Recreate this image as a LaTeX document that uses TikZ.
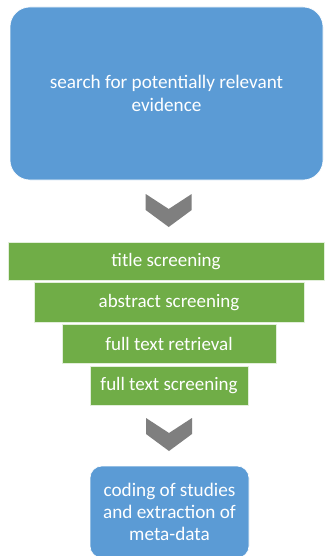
\documentclass[tikz,border=0pt]{standalone}
\usepackage{fontspec}
\setmainfont{Carlito}
\usetikzlibrary{calc}
\definecolor{boxblue}{HTML}{5B9BD5}
\definecolor{bargreen}{HTML}{70AD47}
\definecolor{chevgray}{HTML}{7F7F7F}
\begin{document}
\begin{tikzpicture}[x=1pt,y=-1pt,
  bluebox/.style={fill=boxblue,draw=white,line width=0.6pt,text=white,align=center,
    inner sep=0pt,font=\fontsize{19.2}{23}\selectfont},
  greenbar/.style={fill=bargreen,draw=white!80!bargreen,line width=0.8pt,text=white,
    inner sep=0pt,font=\fontsize{19}{22}\selectfont},
  chevron/.style={fill=chevgray}]
\useasboundingbox (0,0) rectangle (324,556);
\fill[white] (0,0) rectangle (324,556);
% top box
\node[bluebox,rounded corners=20pt,minimum width=313pt,minimum height=173pt]
  (search) at (166.5,93.5) {search for potentially relevant\\evidence};
% green funnel bars
\node[greenbar,minimum width=316pt,minimum height=38.5pt] (title) at (166,261.25) {title screening};
\node[greenbar,minimum width=270pt,minimum height=39.5pt] (abstract) at (169,302.25) {abstract screening};
\node[greenbar,minimum width=214pt,minimum height=39pt] (retrieval) at (169,343.5) {full text retrieval};
\node[greenbar,minimum width=158pt,minimum height=39pt] (fulltext) at (169,385.5) {full text screening};
% bottom box
\node[bluebox,rounded corners=12pt,minimum width=159pt,minimum height=92pt,
  font=\fontsize{19.2}{22}\selectfont]
  (coding) at (169.5,512) {coding of studies\\and extraction of\\meta-data};
% chevrons
\coordinate (c1) at (168.7,194);
\coordinate (c2) at (169,418);
\foreach \c in {c1,c2}{
  \fill[chevron] ($(\c)+(-23,0)$) -- ($(\c)+(0,15)$) -- ($(\c)+(23,0)$) --
    ($(\c)+(23,16)$) -- ($(\c)+(0,33)$) -- ($(\c)+(-23,16)$) -- cycle;
}
\end{tikzpicture}
\end{document}
